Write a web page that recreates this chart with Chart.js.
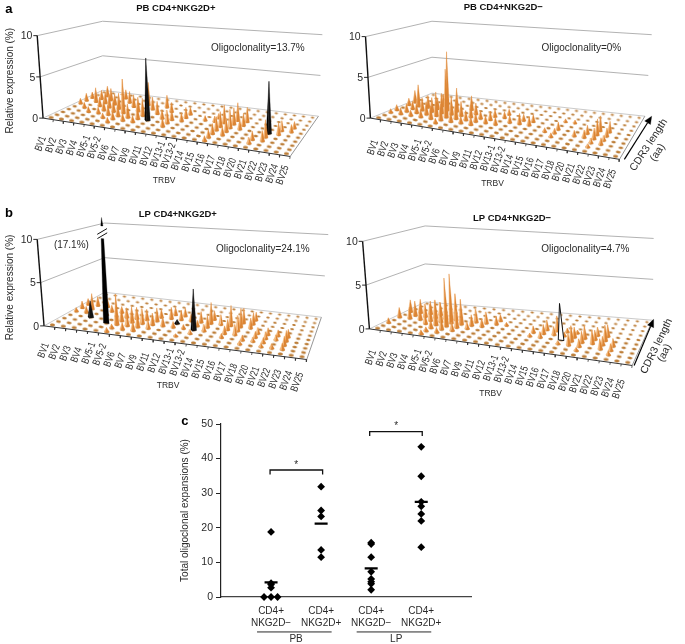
<!DOCTYPE html>
<html>
<head>
<meta charset="utf-8">
<title>TRBV oligoclonality</title>
<script src="https://cdn.jsdelivr.net/npm/chart.js@4"></script>
<style>
html, body { margin: 0; padding: 0; background: #fff; }
body { width: 685px; height: 644px; position: relative; overflow: hidden; }
canvas { position: absolute; filter: blur(0.3px); }
</style>
</head>
<body>
<canvas id="panelA" style="left:0;top:0" width="342" height="195"></canvas>
<canvas id="panelB" style="left:342px;top:0" width="343" height="195"></canvas>
<canvas id="panelC" style="left:0;top:195px" width="342" height="207"></canvas>
<canvas id="panelD" style="left:342px;top:195px" width="343" height="212"></canvas>
<canvas id="panelE" style="left:160px;top:402px" width="320" height="242"></canvas>
<script>
// Categories
const bvLabels = ['BV1', 'BV2', 'BV3', 'BV4', 'BV5-1', 'BV5-2', 'BV6', 'BV7', 'BV9', 'BV11', 'BV12', 'BV13-1',
    'BV13-2', 'BV14', 'BV15', 'BV16', 'BV17', 'BV18', 'BV20', 'BV21', 'BV22', 'BV23', 'BV24', 'BV25'];
const cdrRows = [0, 1, 2, 3, 4, 5, 6, 7, 8, 9];
const wallTicks = [0, 5, 10];

// Spikes as [BV index, CDR3 row, relative expression %]
const pbPosSpikes = [
    [0,5,.7],[0,6,1],[0,7,.8],[1,4,.7],[1,6,1.9],[1,7,1.2],[1,8,1.4],[2,3,.7],[2,5,1.2],[2,6,1.5],[2,7,1.6],[3,3,.8],
    [3,4,1.3],[3,5,1.7],[3,6,1.4],[3,8,1.2],[4,2,.6],[4,3,1.2],[4,4,1.5],[4,5,2],[4,7,1.5],[5,1,.6],[5,2,1],[5,3,1.4],
    [5,4,4.3],[5,6,1.6],[6,2,.9],[6,3,1.7],[6,5,1.8],[6,7,3],[7,2,.8],[7,3,1.5],[7,4,2.2],[7,6,1.6],[8,5,1.6],[8,7,1.6],
    [9,4,1.1],[9,6,1.2],[10,2,1],[10,3,1.6],[10,4,1.2],[11,4,1],[11,5,1.3],[11,6,.9],[13,5,.6],[14,5,.7],[14,6,.6],
    [15,0,.6],[15,1,.9],[15,2,1.2],[15,3,1.6],[15,4,1.8],[15,5,2.2],[16,2,1],[16,3,1.6],[16,4,2.2],[16,5,2],[16,6,2.2],
    [17,4,1.2],[17,5,1.5],[17,6,1.8],[19,1,.7],[19,2,1],[20,2,1.2],[20,3,2],[21,4,1.4],[21,5,1.2],[22,5,.9],[22,6,.8]
];
const pbPosBlack = [[8,3,7.6],[20,4,6]];

const pbNegSpikes = [
    [0,2,.5],[0,3,.7],[0,5,.9],[0,6,1.6],[1,2,.8],[1,3,1],[1,4,1],[1,5,2.8],[2,2,.7],[2,3,1.2],[2,4,1.6],[2,5,1.6],[3,2,1],
    [3,3,1.6],[3,4,1.8],[3,5,1.4],[3,6,1.6],[4,2,1.6],[4,3,3],[4,4,2.5],[4,5,7.5],[5,1,.6],[5,2,2],[5,3,6],[5,4,2.2],[5,5,3],
    [6,2,1.2],[6,3,2.4],[6,4,1.8],[6,6,1.8],[7,2,.9],[7,3,1.2],[7,4,1.6],[7,5,1.4],[8,2,1],[8,3,1.1],[8,4,1],[9,3,.9],[9,4,1.1],
    [9,5,.9],[10,3,.9],[10,5,.8],[10,6,.7],[11,4,.9],[12,4,1.3],[12,5,.8],[13,4,1.1],[13,5,.9],[15,3,.5],[16,2,.5],[16,3,.6],
    [16,4,.9],[16,6,.4],[17,6,.4],[18,3,.7],[19,3,.9],[19,4,1],[20,1,.4],[20,2,.6],[20,3,1.3],[20,4,1.9],[20,5,1.8],[21,2,.8],
    [21,3,.6],[21,4,1],[21,5,1.3]
];
const pbNegBlack = [];

const lpPosSpikes = [
    [0,4,.5],[0,5,.9],[0,6,.8],[1,4,.8],[1,5,2],[1,6,1.2],[2,6,1],[3,4,.6],[3,5,.8],[4,5,.8],[5,0,.5],[5,1,.5],[5,2,3.6],[5,3,1.5],
    [5,4,1.2],[6,1,.8],[6,2,1.5],[6,3,1.9],[6,4,1.4],[7,1,1.1],[7,2,1.7],[7,3,1.8],[7,4,1.3],[8,2,1],[8,3,1.4],[8,4,1.6],[8,5,1],
    [9,3,1.1],[9,5,1.4],[9,6,1],[10,3,.7],[10,5,1.2],[10,6,1],[11,1,.3],[11,3,.5],[11,5,.9],[12,2,.5],[12,4,.7],[12,5,1.3],
    [13,3,.8],[13,4,1.4],[13,5,2.5],[13,6,1.1],[14,5,1.2],[15,2,.5],[15,3,.9],[15,4,1.2],[15,5,2.4],[16,3,1.2],[16,4,1.8],[16,5,2.2],
    [16,6,1.8],[17,1,.4],[17,2,.6],[17,5,1.2],[17,6,1.4],[17,7,1],[18,2,.5],[18,3,.7],[18,4,.7],[19,1,.4],[19,2,.6],[19,3,.8],[19,4,.8],
    [20,1,.5],[20,3,.6],[20,4,.7],[21,1,.7],[21,2,1],[21,3,1.2],[21,4,.9]
];
const lpPosBlack = [[2,3,2],[10,4,.5],[12,3,4.7]];
const lpPosBroken = [[4,2,17.1]];

const lpNegSpikes = [
    [0,2,.6],[0,4,1.2],[0,6,1.5],[1,4,1.4],[1,5,1.8],[1,6,1.7],[2,4,1.6],[2,5,1.6],[2,6,1.6],[3,3,1.2],[3,4,2],[3,5,2.2],[3,6,1.5],
    [4,1,.5],[4,0,.5],[4,2,1],[4,3,2.8],[4,4,2.4],[4,5,1.6],[5,1,.6],[5,2,1.4],[5,3,5.7],[5,4,5.9],[5,5,3.2],[6,2,1],[6,3,2],[6,4,3],
    [7,3,.8],[7,4,1.3],[7,5,1.6],[8,4,1],[8,5,1.4],[9,5,1],[9,6,.8],[10,5,.4],[13,3,.4],[13,4,.8],[14,3,.7],[14,4,1.1],[14,5,1.2],
    [15,4,1],[15,5,1.8],[15,6,1.4],[16,2,.4],[16,4,.5],[16,5,.5],[17,2,1.3],[17,3,1.8],[17,4,1.2],[17,5,.4],[18,1,.4],[18,2,.9],[18,3,1.3],
    [18,4,1.5],[19,3,1.6],[19,4,1.1],[19,5,1],[20,2,1.2],[20,3,1],[20,4,1.8],[20,5,1.4],[21,1,.5],[21,2,.8],[21,3,.9]
];
const lpNegHollow = [[16,3,4.2]];

// Panel c values
const groupCenters = [1, 2, 3, 4];
const groupTickLabels = [['CD4+', 'NKG2D\u2212'], ['CD4+', 'NKG2D+'], ['CD4+', 'NKG2D\u2212'], ['CD4+', 'NKG2D+']];
const pbNegX = [1, 1, 1, 1, 0.86, 1, 1.13];
const pbNegValues = [18.8, 4, 3.6, 2.7, 0, 0, 0];
const pbPosX = [2, 2, 2, 2, 2];
const pbPosValues = [31.9, 25, 23.3, 13.6, 11.5];
const lpNegX = [3, 3, 3, 3, 3, 3, 3, 3];
const lpNegValues = [15.7, 15.3, 11.5, 7.3, 5.2, 4.4, 3.8, 2.1];
const lpPosX = [4, 4, 4, 4, 4, 4, 4];
const lpPosValues = [43.4, 34.9, 27.5, 26.2, 24, 22, 14.4];
const meanValues = [4.2, 21.2, 8.3, 27.5];

const FONT = '"Liberation Sans", Arial, sans-serif';
const TEXT = '#2a2a2a';

// Writes text lists onto a chart, positions are scale values
const textPlugin = {
    id: 'panelText',
    afterDraw(chart, args, opts) {
        const ctx = chart.ctx;
        (opts.items || []).forEach(t => {
            ctx.save();
            ctx.translate(chart.scales.x.getPixelForValue(t.x), chart.scales.y.getPixelForValue(t.y));
            if (t.rot) ctx.rotate(t.rot * Math.PI / 180);
            if (t.sx) ctx.scale(t.sx, 1);
            ctx.font = t.font || ('11px ' + FONT);
            ctx.fillStyle = t.color || TEXT;
            ctx.textAlign = t.align || 'center';
            ctx.textBaseline = 'middle';
            ctx.fillText(t.text, 0, 0);
            ctx.restore();
        });
    }
};
Chart.register(textPlugin);

function mix(a, b, t) {
    return [a[0] + (b[0] - a[0]) * t, a[1] + (b[1] - a[1]) * t];
}

// Maps floor position u,w (0..1) and a height to page coordinates
function project(p, u, w, v) {
    const left = mix(p.fl, p.bl, w);
    const right = mix(p.fr, p.br, w);
    const base = mix(left, right, u);
    const upBL = [(p.blTop[0] - p.bl[0]) / 10, (p.blTop[1] - p.bl[1]) / 10];
    const upFL = [(p.flTop[0] - p.fl[0]) / 10, (p.flTop[1] - p.fl[1]) / 10];
    const upBR = [(p.brTop[0] - p.br[0]) / 10, (p.brTop[1] - p.br[1]) / 10];
    const upFR = [upBR[0] + upFL[0] - upBL[0], upBR[1] + upFL[1] - upBL[1]];
    const up = mix(mix(upFL, upBL, w), mix(upFR, upBR, w), u);
    return { x: base[0] + up[0] * v, y: base[1] + up[1] * v };
}

function cell(p, i, j, v) {
    return project(p, (i + 0.5) / bvLabels.length, (j + 0.5) / cdrRows.length, v);
}

function lineSet(points, color, width) {
    return { data: points, showLine: true, borderColor: color, borderWidth: width, pointRadius: 0, tension: 0, fill: false };
}

function shape(points, color, border) {
    return {
        data: points, showLine: true, borderColor: border || color, borderWidth: border ? 1 : 0.3,
        backgroundColor: color, pointRadius: 0, tension: 0, fill: 'shape'
    };
}

// Two faces so that the spike looks like a cone
function spikeSets(p, s, light, dark, width) {
    const tip = cell(p, s[0], s[1], s[2]);
    const a = cell(p, s[0] - width, s[1], 0);
    const b = cell(p, s[0], s[1] - width, 0);
    const c = cell(p, s[0] + width, s[1], 0);
    return [shape([a, tip, b, a], light), shape([b, tip, c, b], dark)];
}

const dotSprites = {};
function dotSprite(w, h) {
    const key = w + '_' + h;
    if (dotSprites[key]) return dotSprites[key];
    const c = document.createElement('canvas');
    c.width = Math.ceil(w) + 2;
    c.height = Math.ceil(h) + 3;
    const g = c.getContext('2d');
    g.fillStyle = '#bd7f3a';
    g.beginPath();
    g.ellipse(c.width / 2, c.height / 2, w / 2, h / 2, 0.14, 0, Math.PI * 2);
    g.fill();
    dotSprites[key] = c;
    return c;
}

function drawPanel(id, p, spikes, black, broken, hollow) {
    const sets = [];

    // Back walls
    [5, 10].forEach(v => {
        sets.push(lineSet([project(p, 0, 0, v), project(p, 0, 1, v), project(p, 1, 1, v)], '#a9a9a9', 0.9));
    });

    // Floor edges
    sets.push(lineSet([project(p, 0, 0, 0), project(p, 0, 1, 0), project(p, 1, 1, 0)], '#bdbdbd', 0.8));
    sets.push(lineSet([project(p, 1, 1, 0), project(p, 1, 0, 0)], '#8a8a8a', 0.9));

    // Floor dots, bigger towards the viewer
    const dots = [];
    const sprites = [];
    bvLabels.forEach((label, i) => {
        cdrRows.forEach(j => {
            dots.push(cell(p, i, j, 0));
            const near = 1 - j / cdrRows.length;
            sprites.push(dotSprite(3.2 + 1.8 * near, 1.7 + 1.1 * near));
        });
    });
    sets.push({ data: dots, showLine: false, pointStyle: sprites, pointRadius: 2, borderWidth: 0 });

    // Spikes back to front
    const all = [];
    spikes.forEach(s => all.push({ s: s, kind: 'orange' }));
    black.forEach(s => all.push({ s: s, kind: 'black' }));
    hollow.forEach(s => all.push({ s: s, kind: 'hollow' }));
    broken.forEach(s => all.push({ s: s, kind: 'broken' }));
    all.sort((a, b) => (b.s[1] - a.s[1]) || (a.s[0] - b.s[0]));
    all.forEach(item => {
        const s = item.s;
        if (item.kind === 'orange') {
            sets.push(...spikeSets(p, s, '#f6bb7e', '#dc8534', 0.24));
        } else if (item.kind === 'black') {
            sets.push(...spikeSets(p, s, '#000', '#111', 0.28));
        } else if (item.kind === 'hollow') {
            const a = cell(p, s[0] - 0.27, s[1], 0);
            const b = cell(p, s[0] + 0.27, s[1], 0);
            const t = cell(p, s[0], s[1], s[2]);
            sets.push(shape([a, t, b, a], '#fff', '#111'));
        } else {
            // value is off the wall, so cut the trunk and show the tip above the break
            const a = cell(p, s[0] - 0.27, s[1], 0);
            const b = cell(p, s[0] + 0.27, s[1], 0);
            const c = cell(p, s[0] + 0.12, s[1], p.breakAt);
            const d = cell(p, s[0] - 0.12, s[1], p.breakAt);
            sets.push(shape([a, d, c, b, a], '#000'));
            const e = cell(p, s[0] - 0.1, s[1], p.breakAt + 1.5);
            const f = cell(p, s[0] + 0.1, s[1], p.breakAt + 1.5);
            const t = cell(p, s[0], s[1], p.breakAt + 2.5);
            sets.push(shape([e, t, f, e], '#000'));
            [0.35, 0.85].forEach(dv => {
                const m = cell(p, s[0], s[1], p.breakAt + dv);
                sets.push(lineSet([{ x: m.x - 5, y: m.y + 3 }, { x: m.x + 5, y: m.y - 3 }], '#111', 1));
            });
        }
    });

    // Value axis and floor axis in front of everything
    sets.push(lineSet([project(p, 0, 0, 0), project(p, 0, 0, 10)], '#111', 1.4));
    sets.push(lineSet([project(p, 0, 0, 0), project(p, 1, 0, 0)], '#333', 1));
    wallTicks.forEach(v => {
        const q = project(p, 0, 0, v);
        sets.push(lineSet([q, { x: q.x - 4, y: q.y }], '#111', 0.9));
    });
    bvLabels.forEach((label, i) => {
        const q = project(p, (i + 1) / bvLabels.length, 0, 0);
        sets.push(lineSet([q, { x: q.x - 0.4, y: q.y + 2.5 }], '#333', 0.8));
    });

    // CDR3 direction arrow
    if (p.arrow) {
        const from = { x: p.arrow[0], y: p.arrow[1] };
        const to = { x: p.arrow[2], y: p.arrow[3] };
        const dx = to.x - from.x, dy = to.y - from.y;
        const len = Math.sqrt(dx * dx + dy * dy);
        const ux = dx / len, uy = dy / len;
        const neck = { x: to.x - ux * 8, y: to.y - uy * 8 };
        sets.push(lineSet([from, neck], '#000', 1.2));
        sets.push(shape([{ x: neck.x - uy * 3.5, y: neck.y + ux * 3.5 }, to, { x: neck.x + uy * 3.5, y: neck.y - ux * 3.5 }, { x: neck.x - uy * 3.5, y: neck.y + ux * 3.5 }], '#000'));
    }

    // Text
    const items = [];
    bvLabels.forEach((label, i) => {
        const a = mix(p.labelStart, p.labelEnd, i / (bvLabels.length - 1));
        items.push({ x: a[0], y: a[1], text: label, rot: -70, sx: 0.76, align: 'left', font: '10.5px ' + FONT });
    });
    wallTicks.forEach(v => {
        const q = project(p, 0, 0, v);
        items.push({ x: q.x - 5, y: q.y + 1, text: String(v), align: 'right', font: '10.5px ' + FONT });
    });
    items.push({ x: p.title[0], y: p.title[1], text: p.titleText, font: 'bold 9.5px ' + FONT, color: '#111' });
    items.push({ x: p.oligo[0], y: p.oligo[1], text: p.oligoText, font: '10px ' + FONT });
    items.push({ x: p.trbv[0], y: p.trbv[1], text: 'TRBV', font: '8.5px ' + FONT });
    (p.extra || []).forEach(t => items.push(t));

    new Chart(document.getElementById(id), {
        type: 'scatter',
        data: { datasets: sets.reverse() },
        options: {
            responsive: false,
            animation: false,
            layout: { padding: 0 },
            plugins: { legend: { display: false }, tooltip: { enabled: false }, panelText: { items: items } },
            scales: {
                x: { type: 'linear', display: false, min: p.view[0], max: p.view[0] + p.view[2] },
                y: { type: 'linear', display: false, min: p.view[1], max: p.view[1] + p.view[3], reverse: true }
            }
        }
    });
}

const cdr3Font = '10.5px ' + FONT;

drawPanel('panelA', {
    view: [0, 0, 342, 195],
    fl: [40, 119], fr: [293, 159], br: [322, 117], bl: [101, 90],
    flTop: [34, 33], blTop: [101, 18], brTop: [326, 32],
    labelStart: [35, 153], labelEnd: [282, 188],
    title: [176, 5], titleText: 'PB CD4+NKG2D+',
    oligo: [260, 46], oligoText: 'Oligoclonality=13.7%',
    trbv: [164, 184],
    extra: [
        { x: 6, y: 80, text: 'Relative expression (%)', rot: -90, font: '10px ' + FONT },
        { x: 5, y: 6, text: 'a', font: 'bold 13px ' + FONT, color: '#000' }
    ]
}, pbPosSpikes, pbPosBlack, [], []);

drawPanel('panelB', {
    view: [342, 0, 343, 195],
    fl: [367, 119], fr: [622, 162], br: [648, 117], bl: [430, 93],
    flTop: [362, 34], blTop: [430, 18], brTop: [655, 32],
    labelStart: [367, 157], labelEnd: [609, 192],
    title: [503, 4], titleText: 'PB CD4+NKG2D\u2212',
    oligo: [583, 46], oligoText: 'Oligoclonality=0%',
    trbv: [492, 187],
    arrow: [627, 162, 655, 117],
    extra: [
        { x: 652, y: 147, text: 'CDR3 length', rot: -57, font: cdr3Font },
        { x: 661, y: 155, text: '(aa)', rot: -57, font: cdr3Font }
    ]
}, pbNegSpikes, pbNegBlack, [], []);

drawPanel('panelC', {
    view: [0, 195, 342, 207],
    fl: [41, 327], fr: [310, 362], br: [325, 318], bl: [103, 292],
    flTop: [34, 237], blTop: [103, 220], brTop: [332, 232],
    labelStart: [38, 360], labelEnd: [297, 395],
    title: [178, 211], titleText: 'LP CD4+NKG2D+',
    oligo: [265, 247], oligoText: 'Oligoclonality=24.1%',
    trbv: [168, 389],
    breakAt: 10,
    extra: [
        { x: 6, y: 287, text: 'Relative expression (%)', rot: -90, font: '10px ' + FONT },
        { x: 5, y: 210, text: 'b', font: 'bold 13px ' + FONT, color: '#000' },
        { x: 69, y: 243, text: '(17.1%)', font: '10px ' + FONT }
    ]
}, lpPosSpikes, lpPosBlack, lpPosBroken, []);

drawPanel('panelD', {
    view: [342, 195, 343, 212],
    fl: [366, 330], fr: [635, 368], br: [656, 321], bl: [423, 302],
    flTop: [359, 239], blTop: [423, 223], brTop: [657, 236],
    labelStart: [365, 367], labelEnd: [618, 402],
    title: [512, 215], titleText: 'LP CD4+NKG2D\u2212',
    oligo: [587, 247], oligoText: 'Oligoclonality=4.7%',
    trbv: [490, 397],
    arrow: [637, 368, 657, 320],
    extra: [
        { x: 660, y: 348, text: 'CDR3 length', rot: -64, font: cdr3Font },
        { x: 668, y: 355, text: '(aa)', rot: -64, font: cdr3Font }
    ]
}, lpNegSpikes, [], [], lpNegHollow);

// Scatter plot of panel c
function xy(xs, ys) {
    return ys.map((y, i) => ({ x: xs[i], y: y }));
}
function diamonds(xs, ys) {
    return { data: xy(xs, ys), pointStyle: 'rectRot', pointRadius: 3.9, backgroundColor: '#000', borderWidth: 0, clip: false };
}
function plainLine(points, width) {
    return { data: points, showLine: true, borderColor: '#111', borderWidth: width, pointRadius: 0, tension: 0, fill: false, clip: false };
}

new Chart(document.getElementById('panelE'), {
    type: 'scatter',
    data: {
        datasets: [
            diamonds(pbNegX, pbNegValues),
            diamonds(pbPosX, pbPosValues),
            diamonds(lpNegX, lpNegValues),
            diamonds(lpPosX, lpPosValues),
            {
                data: xy(groupCenters, meanValues), pointStyle: 'line', pointRadius: 6.5,
                pointBorderWidth: 2.2, borderColor: '#000', backgroundColor: '#000'
            },
            plainLine([{ x: 0.98, y: 35.4 }, { x: 0.98, y: 36.7 }, { x: 2.03, y: 36.7 }, { x: 2.03, y: 35.4 }], 1.3),
            plainLine([{ x: 2.97, y: 46.5 }, { x: 2.97, y: 47.8 }, { x: 4.02, y: 47.8 }, { x: 4.02, y: 46.5 }], 1.3),
            plainLine([{ x: 0.72, y: -10.1 }, { x: 2.21, y: -10.1 }], 0.9),
            plainLine([{ x: 2.71, y: -10.1 }, { x: 4.2, y: -10.1 }], 0.9)
        ]
    },
    options: {
        responsive: false,
        animation: false,
        layout: { padding: { top: 22, left: 19, right: 8, bottom: 0 } },
        plugins: {
            legend: { display: false },
            tooltip: { enabled: false },
            panelText: {
                items: [
                    { x: 1.5, y: 38.2, text: '*', font: '10px ' + FONT },
                    { x: 3.5, y: 49.3, text: '*', font: '10px ' + FONT },
                    { x: 1.5, y: -12.2, text: 'PB', font: '10px ' + FONT },
                    { x: 3.5, y: -12.2, text: 'LP', font: '10px ' + FONT },
                    { x: -0.72, y: 50.8, text: 'c', font: 'bold 13px ' + FONT, color: '#000' }
                ]
            }
        },
        scales: {
            x: {
                type: 'linear', min: 0, max: 5,
                afterFit: s => { s.height = 47; },
                grid: { display: false },
                border: { color: '#444', width: 1.2 },
                ticks: {
                    stepSize: 1, maxRotation: 0, padding: 0, color: TEXT,
                    font: { family: FONT, size: 10, lineHeight: 1.2 },
                    callback: v => groupTickLabels[v - 1] || ''
                }
            },
            y: {
                type: 'linear', min: 0, max: 50,
                afterFit: s => { s.width = 42; },
                grid: { drawOnChartArea: false, tickLength: 5, color: '#222' },
                border: { color: '#222', width: 1.2 },
                title: { display: true, text: 'Total oligoclonal expansions (%)', color: TEXT, font: { family: FONT, size: 10 }, padding: 0 },
                ticks: { stepSize: 10, padding: 3, color: TEXT, font: { family: FONT, size: 10.5 } }
            }
        }
    }
});
</script>
</body>
</html>
